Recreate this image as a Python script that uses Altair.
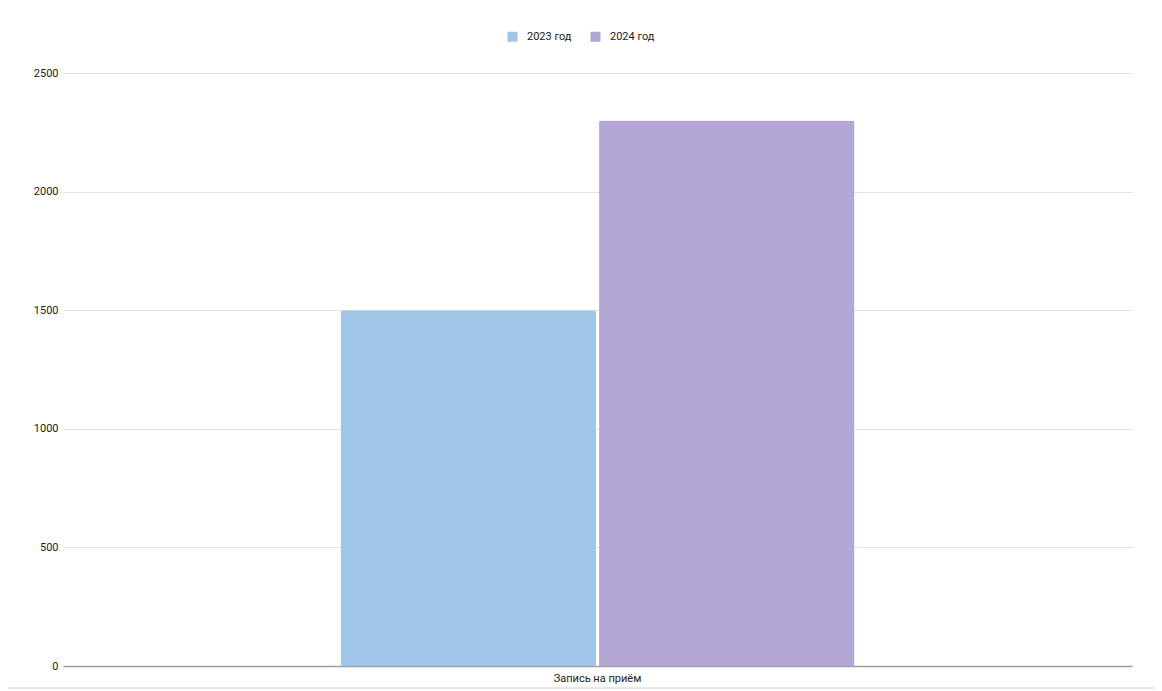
import altair as alt
import pandas as pd

category = ["Запись на приём"]
series = ["2023 год", "2024 год"]
values = [1500, 2300]
colors = ["#9fc5e8", "#b4a7d6"]
y_ticks = [0, 500, 1000, 1500, 2000, 2500]

df = pd.DataFrame({"cat": category * len(series), "series": series, "value": values})

FONT = "Roboto"

bars = alt.Chart(df).mark_bar(cornerRadiusTopLeft=2, cornerRadiusTopRight=2).encode(
    x=alt.X("cat:N", title=None,
            scale=alt.Scale(paddingInner=0, paddingOuter=0.54),
            axis=alt.Axis(labelAngle=0, domainColor="#9e9e9e", domainWidth=1.5,
                          ticks=False, labelPadding=6, labelFontSize=11,
                          labelColor="#222222", labelFont=FONT, grid=False)),
    xOffset=alt.XOffset("series:N", sort=series,
                        scale=alt.Scale(paddingInner=0.012, paddingOuter=0)),
    y=alt.Y("value:Q", title=None,
            scale=alt.Scale(domain=[0, 2500], nice=False),
            axis=alt.Axis(values=y_ticks, format="d", domain=False, ticks=False,
                          gridColor="#e2e2e2", gridWidth=1, labelPadding=5,
                          labelFontSize=11, labelColor="#222222", labelFont=FONT)),
    color=alt.Color("series:N", sort=series,
                    scale=alt.Scale(domain=series, range=colors),
                    legend=alt.Legend(title=None, orient="none", legendX=444, legendY=-42,
                                      direction="horizontal", symbolType="square",
                                      symbolSize=100, symbolStrokeWidth=0,
                                      labelFontSize=11, labelColor="#222222",
                                      labelOffset=9,
                                      labelFont=FONT, columnPadding=18)),
)

bottom_line = alt.Chart(df).mark_rule(color="#e0e0e0", strokeWidth=1).encode(
    y=alt.value(615), x=alt.value(-55), x2=alt.value(1091)
)

chart = alt.layer(bars, bottom_line).properties(
    width=1069, height=593,
    autosize=alt.AutoSizeParams(type="none"),
    padding={"left": 55, "top": 65, "right": 22, "bottom": 27},
).configure(background="white", view=alt.ViewConfig(stroke=None))

chart.save("out.html", embed_options={"renderer": "svg", "actions": False})
